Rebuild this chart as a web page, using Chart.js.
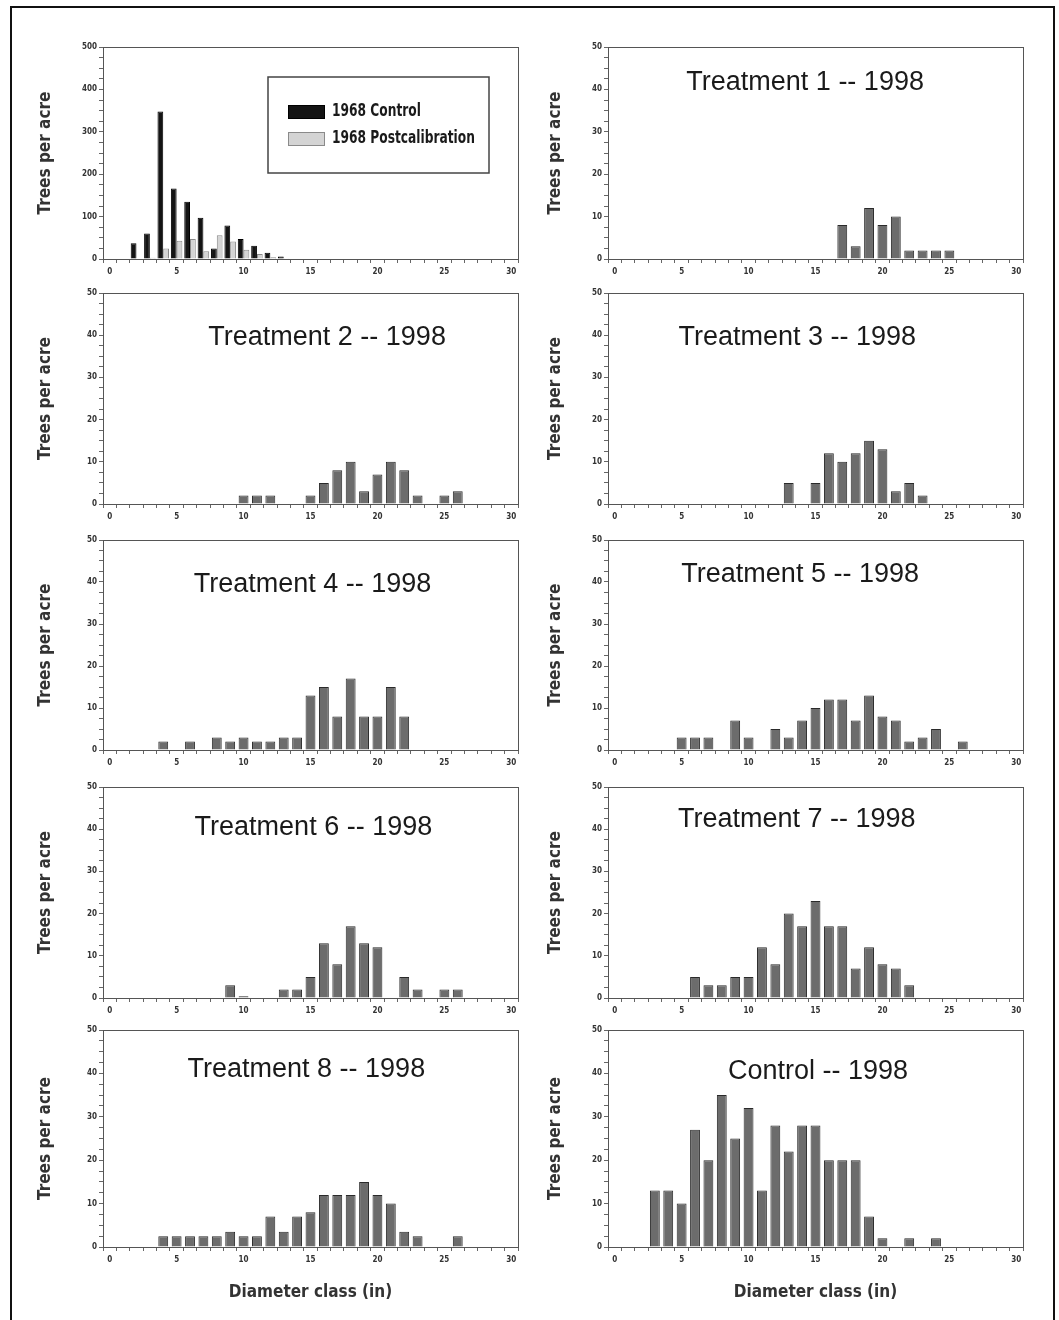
<!DOCTYPE html>
<html>
<head>
<meta charset="utf-8">
<script src="https://cdn.jsdelivr.net/npm/chart.js@4.4.1/dist/chart.umd.min.js"></script>
<style>
  body { margin: 0; background: #fff; }
  #fig { position: relative; width: 1059px; height: 1320px; overflow: hidden; }
  #frame { position: absolute; left: 10px; top: 6px; width: 1045px; height: 1330px; border: 2px solid #111; box-sizing: border-box; }
  canvas { position: absolute; }
</style>
</head>
<body>
<div id="fig"><div id="frame"></div></div>
<script>
// diameter classes (in)
const diameterClasses = [1, 2, 3, 4, 5, 6, 7, 8, 9, 10, 11, 12, 13, 14, 15, 16, 17, 18, 19, 20, 21, 22, 23, 24, 25, 26, 27, 28, 29];

// trees per acre, one value per diameter class
const control1968 = [0, 37, 60, 348, 166, 135, 97, 25, 79, 47, 31, 15, 6, 0, 0, 0, 0, 0, 0, 0, 0, 0, 0, 0, 0, 0, 0, 0, 0];
const postcal1968 = [0, 0, 3, 25, 43, 47, 18, 56, 41, 22, 12, 4, 2, 0, 0, 0, 0, 0, 0, 0, 0, 0, 0, 0, 0, 0, 0, 0, 0];
const treatment1 = [0, 0, 0, 0, 0, 0, 0, 0, 0, 0, 0, 0, 0, 0, 0, 0, 8, 3, 12, 8, 10, 2, 2, 2, 2, 0, 0, 0, 0];
const treatment2 = [0, 0, 0, 0, 0, 0, 0, 0, 0, 2, 2, 2, 0, 0, 2, 5, 8, 10, 3, 7, 10, 8, 2, 0, 2, 3, 0, 0, 0];
const treatment3 = [0, 0, 0, 0, 0, 0, 0, 0, 0, 0, 0, 0, 5, 0, 5, 12, 10, 12, 15, 13, 3, 5, 2, 0, 0, 0, 0, 0, 0];
const treatment4 = [0, 0, 0, 2, 0, 2, 0, 3, 2, 3, 2, 2, 3, 3, 13, 15, 8, 17, 8, 8, 15, 8, 0, 0, 0, 0, 0, 0, 0];
const treatment5 = [0, 0, 0, 0, 3, 3, 3, 0, 7, 3, 0, 5, 3, 7, 10, 12, 12, 7, 13, 8, 7, 2, 3, 5, 0, 2, 0, 0, 0];
const treatment6 = [0, 0, 0, 0, 0, 0, 0, 0, 3, 0.4, 0, 0, 2, 2, 5, 13, 8, 17, 13, 12, 0, 5, 2, 0, 2, 2, 0, 0, 0];
const treatment7 = [0, 0, 0, 0, 0, 5, 3, 3, 5, 5, 12, 8, 20, 17, 23, 17, 17, 7, 12, 8, 7, 3, 0, 0, 0, 0, 0, 0, 0];
const treatment8 = [0, 0, 0, 2.5, 2.5, 2.5, 2.5, 2.5, 3.5, 2.5, 2.5, 7, 3.5, 7, 8, 12, 12, 12, 15, 12, 10, 3.5, 2.5, 0, 0, 2.5, 0, 0, 0];
const control1998 = [0, 0, 13, 13, 10, 27, 20, 35, 25, 32, 13, 28, 22, 28, 28, 20, 20, 20, 7, 2, 0, 2, 0, 2, 0, 0, 0, 0, 0];

const xTicksMax = 30;
const yMaxFirst = 500;
const yMaxOther = 50;

// panel layout: plot-area rows and title placement
const plotTops = [47, 293, 540, 787, 1030];
const plotBottoms = [259, 504, 750, 998, 1247];

const panels = [
  { title: null, series: [['1968 Control', control1968, '#141414', '#000'], ['1968 Postcalibration', postcal1968, '#d4d4d4', '#8a8a8a']], yMax: yMaxFirst },
  { title: 'Treatment 1 -- 1998', fx: 0.475, dy: 36, series: [['Treatment 1', treatment1]], yMax: yMaxOther },
  { title: 'Treatment 2 -- 1998', fx: 0.54, dy: 45, series: [['Treatment 2', treatment2]], yMax: yMaxOther },
  { title: 'Treatment 3 -- 1998', fx: 0.456, dy: 45, series: [['Treatment 3', treatment3]], yMax: yMaxOther },
  { title: 'Treatment 4 -- 1998', fx: 0.505, dy: 45, series: [['Treatment 4', treatment4]], yMax: yMaxOther },
  { title: 'Treatment 5 -- 1998', fx: 0.463, dy: 35, series: [['Treatment 5', treatment5]], yMax: yMaxOther },
  { title: 'Treatment 6 -- 1998', fx: 0.507, dy: 41, series: [['Treatment 6', treatment6]], yMax: yMaxOther },
  { title: 'Treatment 7 -- 1998', fx: 0.455, dy: 33, series: [['Treatment 7', treatment7]], yMax: yMaxOther },
  { title: 'Treatment 8 -- 1998', fx: 0.49, dy: 40, series: [['Treatment 8', treatment8]], yMax: yMaxOther },
  { title: 'Control -- 1998', fx: 0.506, dy: 42, series: [['Control 1998', control1998]], yMax: yMaxOther }
];

const narrow = "'Liberation Sans Narrow', 'DejaVu Sans Condensed', 'Arial Narrow', sans-serif";
Chart.defaults.font.family = narrow;
Chart.defaults.color = '#333';

// frame around the plot area
const boxPlugin = {
  id: 'box',
  afterDraw(chart) {
    const a = chart.chartArea, ctx = chart.ctx;
    ctx.save();
    ctx.strokeStyle = '#555';
    ctx.lineWidth = 1;
    ctx.strokeRect(a.left + 0.5, a.top + 0.5, a.right - a.left, a.bottom - a.top);
    ctx.restore();
  }
};

// legend box inside the first panel
const legendPlugin = {
  id: 'insideLegend',
  afterDraw(chart) {
    const a = chart.chartArea, ctx = chart.ctx;
    const bx = a.left + 165, by = a.top + 30;
    ctx.save();
    ctx.strokeStyle = '#444';
    ctx.lineWidth = 1.5;
    ctx.strokeRect(bx, by, 221, 96);
    chart.data.datasets.forEach((ds, i) => {
      const sy = by + 28 + i * 27;
      ctx.fillStyle = ds.backgroundColor;
      ctx.fillRect(bx + 20, sy, 37, 14);
      ctx.strokeStyle = ds.borderColor;
      ctx.lineWidth = 1;
      ctx.strokeRect(bx + 20.5, sy + 0.5, 36, 13);
      // condensed label
      ctx.save();
      ctx.translate(bx + 64, sy + 7);
      ctx.scale(0.8, 1);
      ctx.fillStyle = '#1a1a1a';
      ctx.font = 'bold 17px ' + narrow;
      ctx.textBaseline = 'middle';
      ctx.fillText(ds.label, 0, 0);
      ctx.restore();
    });
    ctx.restore();
  }
};

function titlePlugin(p) {
  return {
    id: 'panelTitle',
    afterDraw(chart) {
      if (!p.title) return;
      const a = chart.chartArea, ctx = chart.ctx;
      ctx.save();
      ctx.fillStyle = '#1a1a1a';
      ctx.font = "27px 'Liberation Sans', Arial, sans-serif";
      ctx.textAlign = 'center';
      ctx.textBaseline = 'middle';
      ctx.fillText(p.title, a.left + p.fx * (a.right - a.left), a.top + p.dy);
      ctx.restore();
    }
  };
}

const fig = document.getElementById('fig');

panels.forEach((p, i) => {
  const col = i % 2, row = Math.floor(i / 2);
  const last = row === 4;
  const xAxisH = last ? 62 : 26;
  const padTop = 10;
  const plotH = plotBottoms[row] - plotTops[row];
  const cv = document.createElement('canvas');
  cv.width = 510;
  cv.height = padTop + plotH + xAxisH;
  cv.style.left = (col ? 530 : 20) + 'px';
  cv.style.top = (plotTops[row] - padTop) + 'px';
  fig.appendChild(cv);

  const yStep = p.yMax / 20;
  const yLabelStep = p.yMax / 5;

  new Chart(cv, {
    type: 'bar',
    data: {
      labels: diameterClasses,
      datasets: p.series.map(s => ({
        label: s[0],
        data: s[1],
        backgroundColor: s[2] || '#6c6c6c',
        borderColor: s[3] || '#2a2a2a',
        borderWidth: 1,
        categoryPercentage: p.series.length > 1 ? 0.86 : 0.8,
        barPercentage: p.series.length > 1 ? 1 : 0.92
      }))
    },
    options: {
      responsive: false,
      animation: false,
      layout: { padding: { top: padTop, right: col ? 17 : 12, left: 0, bottom: 0 } },
      plugins: {
        legend: { display: false },
        tooltip: { enabled: false }
      },
      scales: {
        x: {
          type: 'linear',
          min: 0,
          max: xTicksMax,
          afterFit: s => { s.height = xAxisH; },
          ticks: {
            stepSize: 1,
            autoSkip: false,
            maxRotation: 0,
            padding: 4,
            font: { size: 8, weight: 'bold' },
            callback: v => (v % 5 === 0 ? v : '')
          },
          grid: { drawOnChartArea: false, tickLength: 4, color: '#666' },
          border: { color: '#555' },
          title: {
            display: last,
            text: 'Diameter class (in)',
            font: { size: 17, weight: 'bold' },
            color: '#333',
            padding: { top: 0, bottom: 6 }
          }
        },
        y: {
          min: 0,
          max: p.yMax,
          afterFit: s => { s.width = col ? 78 : 83; },
          ticks: {
            stepSize: yStep,
            autoSkip: false,
            padding: 2,
            font: { size: 8, weight: 'bold' },
            callback: v => (Math.abs(v % yLabelStep) < 1e-6 ? v : '')
          },
          grid: { drawOnChartArea: false, tickLength: 4, color: '#666' },
          border: { color: '#555' },
          title: {
            display: true,
            text: 'Trees per acre',
            font: { size: 17, weight: 'bold' },
            color: '#333',
            padding: { top: 15, bottom: 0 }
          }
        }
      }
    },
    plugins: i === 0 ? [boxPlugin, legendPlugin] : [boxPlugin, titlePlugin(p)]
  });
});
</script>
</body>
</html>
